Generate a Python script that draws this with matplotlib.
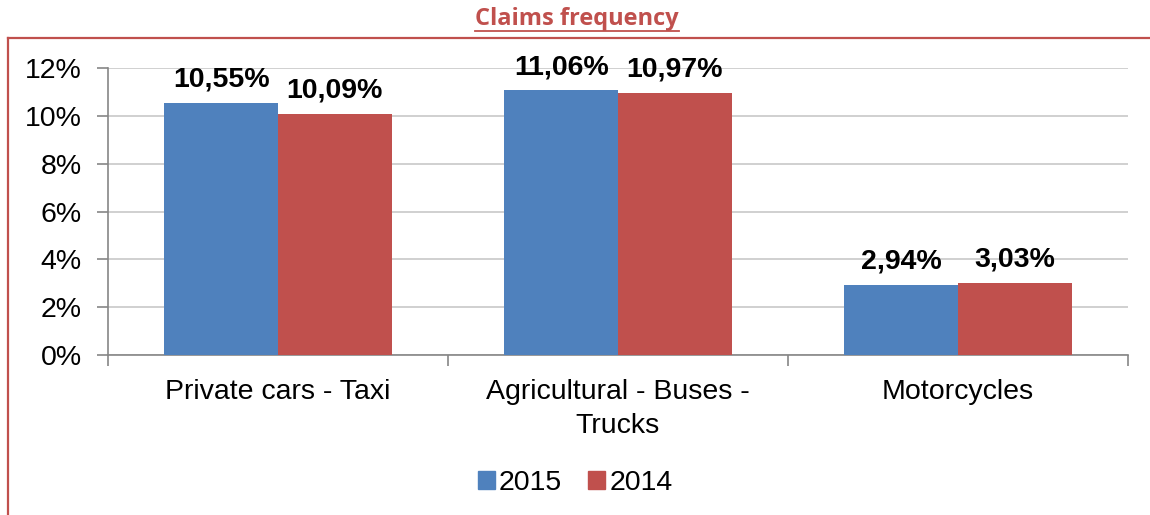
import numpy as np
import matplotlib
matplotlib.use("Agg")
import matplotlib.pyplot as plt
from matplotlib.lines import Line2D
from matplotlib.patches import Patch

categories = ["Private cars - Taxi", "Agricultural - Buses -\nTrucks", "Motorcycles"]
values_2015 = [10.55, 11.06, 2.94]
values_2014 = [10.09, 10.97, 3.03]
series_names = ["2015", "2014"]
yticks = [0, 2, 4, 6, 8, 10, 12]

BLUE = "#4F81BD"
RED = "#C0504D"
AXIS = "#868686"
FS = 20.5

plt.rcParams["font.family"] = ["Liberation Sans", "DejaVu Sans"]

fig = plt.figure(figsize=(11.5, 5.15), dpi=100)
ax = fig.add_axes([108 / 1150, 1 - 355 / 515, 1020 / 1150, 287 / 515])

x = np.arange(len(categories))
w = 0.334
b1 = ax.bar(x - w / 2, values_2015, w, color=BLUE, zorder=3)
b2 = ax.bar(x + w / 2, values_2014, w, color=RED, zorder=3)

for bars, vals in ((b1, values_2015), (b2, values_2014)):
    for rect, v in zip(bars, vals):
        ax.text(rect.get_x() + rect.get_width() / 2, v + 0.42,
                f"{v:.2f}%".replace(".", ","), ha="center", va="bottom",
                fontsize=FS, fontweight="bold", clip_on=False)

ax.set_xlim(-0.5, len(categories) - 0.5)
ax.set_ylim(0, 12)
ax.set_yticks(yticks)
ax.set_yticklabels([f"{t}%" for t in yticks], fontsize=FS)
ax.set_xticks(x)
ax.set_xticklabels(categories, fontsize=FS, linespacing=1.4)
ax.set_xticks(np.arange(-0.5, len(categories)), minor=True)

ax.tick_params(axis="x", which="major", length=0, pad=17)
ax.tick_params(axis="x", which="minor", length=8, color=AXIS, width=1.2)
ax.tick_params(axis="y", length=8, color=AXIS, width=1.2, pad=11)

ax.grid(axis="y", color="#C8C8C8", linewidth=1.2, zorder=0)
for side in ("top", "right"):
    ax.spines[side].set_visible(False)
for side in ("left", "bottom"):
    ax.spines[side].set_color(AXIS)
    ax.spines[side].set_linewidth(1.2)

# legend
handles = [Patch(color=BLUE), Patch(color=RED)]
fig.legend(handles, series_names, loc="center", bbox_to_anchor=(0.5, 1 - 483 / 515),
           ncol=2, frameon=False, fontsize=FS, handlelength=0.6, handleheight=0.6,
           handletextpad=0.15, columnspacing=0.9)

# red frame (top and left edges)
fig.add_artist(Line2D([8 / 1150, 1.0], [1 - 38 / 515] * 2, transform=fig.transFigure,
                      color=RED, linewidth=1.6))
fig.add_artist(Line2D([8 / 1150] * 2, [1 - 38 / 515, 0], transform=fig.transFigure,
                      color=RED, linewidth=1.6))

# underlined title
title = fig.text(0.502, 1 - 19 / 515, "Claims frequency", ha="center", va="center",
                 fontsize=17, fontweight="bold", color=RED, family=["Open Sans", "DejaVu Sans"])
fig.canvas.draw()
bb = title.get_window_extent().transformed(fig.transFigure.inverted())
fig.add_artist(Line2D([bb.x0, bb.x1], [1 - 31 / 515] * 2, transform=fig.transFigure,
                      color=RED, linewidth=1.3))

fig.savefig("out.png", dpi=100)
